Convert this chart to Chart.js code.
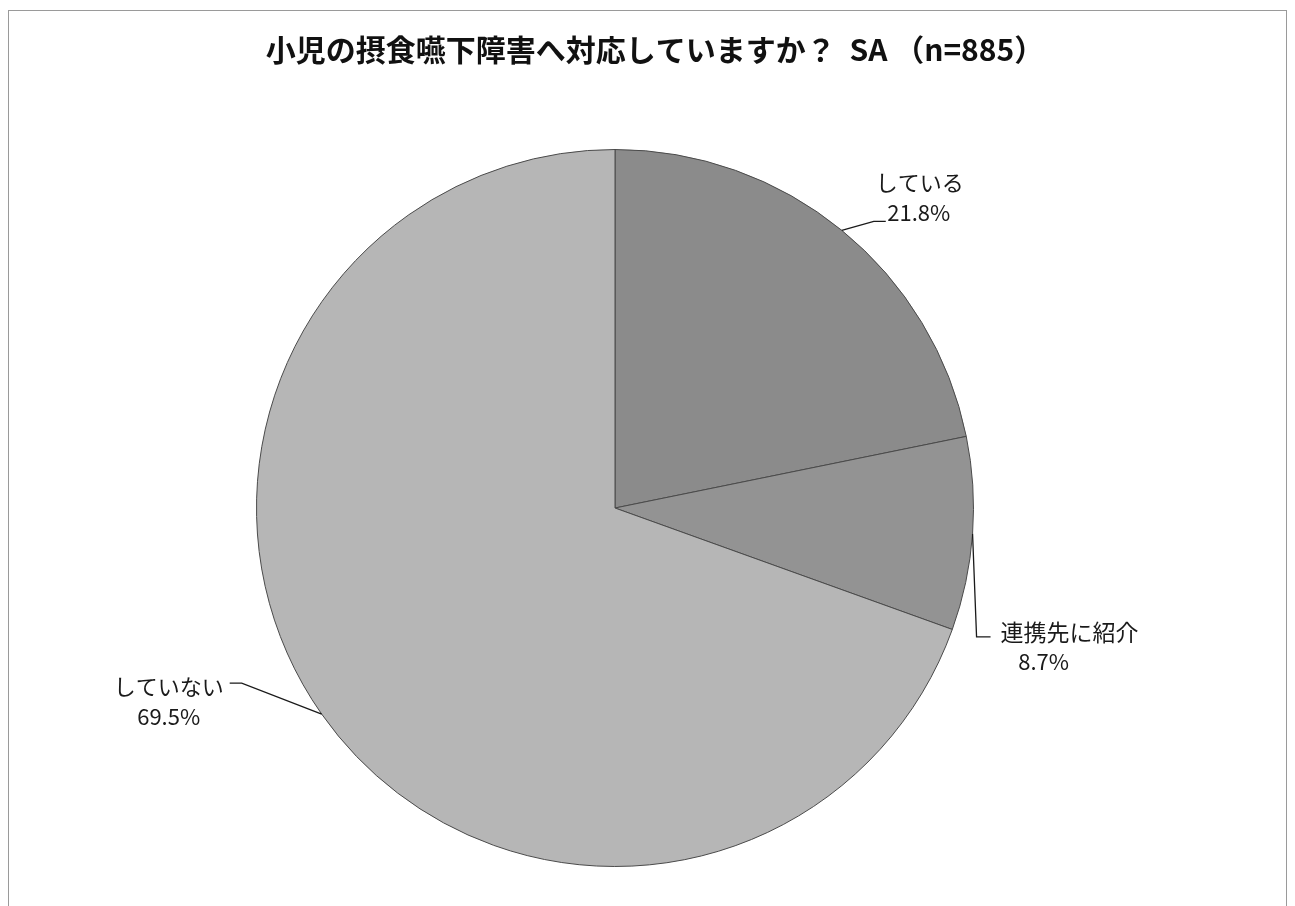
<!DOCTYPE html>
<html>
<head>
<meta charset="utf-8">
<script src="https://cdn.jsdelivr.net/npm/chart.js@4/dist/chart.umd.min.js"></script>
<style>
  html, body { margin: 0; padding: 0; background: #ffffff; }
  #wrap { position: relative; width: 1295px; height: 906px; }
  #frame { position: absolute; left: 8px; top: 10px; width: 1279px; height: 920px;
           border: 1px solid #9a9a9a; box-sizing: border-box; pointer-events: none; }
  canvas { position: absolute; left: 0; top: 0; }
</style>
</head>
<body>
<div id="wrap">
  <canvas id="c" width="1295" height="906"></canvas>
  <div id="frame"></div>
</div>
<script>
const titleText = "小児の摂食嚥下障害へ対応していますか？  SA （n=885）";
const categories = ["している", "連携先に紹介", "していない"];
const values = [21.8, 8.7, 69.5];
const sliceColors = ["#8b8b8b", "#939393", "#b6b6b6"];

// Leader-line / label geometry relative to the slice's outer mid-point
const labelGeom = [
  { elbow: [32, -9], end: [44, -9], t1: [78, -48], t2: [77, -18] },
  { elbow: [4, 103], end: [18, 103], t1: [97, 98], t2: [71, 128] },
  { elbow: [-80, -31], end: [-92, -31], t1: [-153, -27], t2: [-153, 3] }
];

const labelPlugin = {
  id: 'outLabels',
  afterDatasetsDraw(chart) {
    const ctx = chart.ctx;
    const meta = chart.getDatasetMeta(0);
    ctx.save();
    meta.data.forEach((arc, i) => {
      const p = arc.getProps(['x', 'y', 'startAngle', 'endAngle', 'outerRadius'], true);
      const mid = (p.startAngle + p.endAngle) / 2;
      const px = p.x + Math.cos(mid) * p.outerRadius;
      const py = p.y + Math.sin(mid) * p.outerRadius;
      const g = labelGeom[i];
      ctx.strokeStyle = '#1a1a1a';
      ctx.lineWidth = 1.3;
      ctx.beginPath();
      ctx.moveTo(px, py);
      ctx.lineTo(px + g.elbow[0], py + g.elbow[1]);
      ctx.lineTo(px + g.end[0], py + g.end[1]);
      ctx.stroke();
      ctx.fillStyle = '#1a1a1a';
      ctx.font = (i === 1 ? '23px' : '22px') + ' "Noto Sans CJK JP"';
      ctx.textAlign = 'center';
      ctx.textBaseline = 'middle';
      ctx.fillText(categories[i], px + g.t1[0], py + g.t1[1]);
      ctx.font = '22px "Noto Sans CJK JP"';
      ctx.fillText(values[i].toFixed(1) + '%', px + g.t2[0], py + g.t2[1]);
    });
    ctx.restore();
  },
  afterDraw(chart) {
    const ctx = chart.ctx;
    ctx.save();
    ctx.fillStyle = '#111111';
    ctx.font = 'bold 30px "Noto Sans CJK JP"';
    ctx.textAlign = 'center';
    ctx.textBaseline = 'middle';
    ctx.fillText(titleText, 655, 50);
    ctx.restore();
  }
};

new Chart(document.getElementById('c'), {
  type: 'pie',
  data: {
    labels: categories,
    datasets: [{
      data: values,
      backgroundColor: sliceColors,
      borderColor: '#4a4a4a',
      borderWidth: 1
    }]
  },
  options: {
    responsive: false,
    devicePixelRatio: 1,
    animation: false,
    layout: { padding: { top: 149, bottom: 39, left: 199, right: 264 } },
    plugins: {
      legend: { display: false },
      tooltip: { enabled: false },
      title: { display: false }
    }
  },
  plugins: [labelPlugin]
});
</script>
</body>
</html>
